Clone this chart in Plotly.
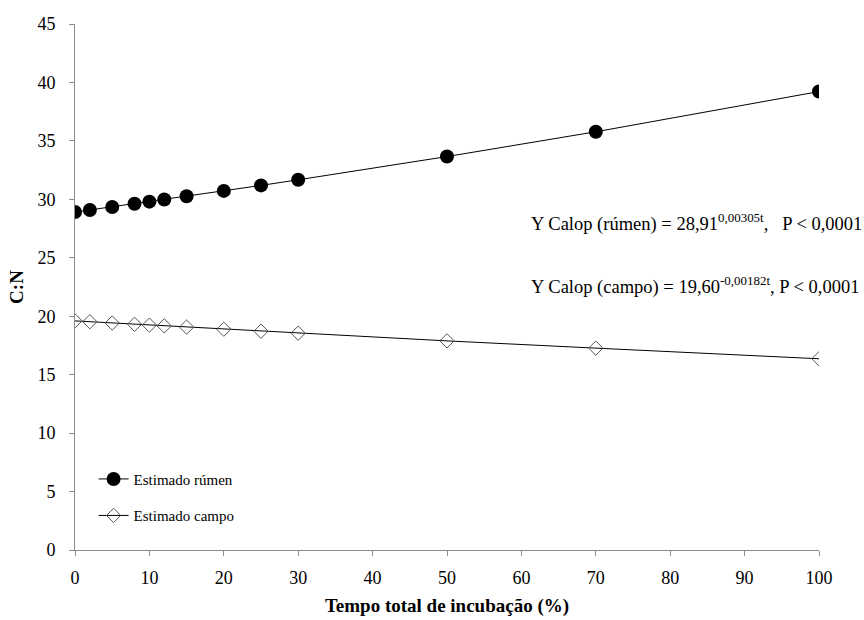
import plotly.graph_objects as go

# Incubation time (% of total) and estimated C:N ratios
tempo = [0, 2, 5, 8, 10, 12, 15, 20, 25, 30, 50, 70, 100]
rumen = [28.91, 29.09, 29.35, 29.62, 29.80, 29.98, 30.26, 30.72, 31.19, 31.67, 33.66, 35.78, 39.22]
campo = [19.60, 19.53, 19.42, 19.31, 19.24, 19.17, 19.07, 18.89, 18.72, 18.55, 17.89, 17.27, 16.36]

x_ticks = [0, 10, 20, 30, 40, 50, 60, 70, 80, 90, 100]
y_ticks = [0, 5, 10, 15, 20, 25, 30, 35, 40, 45]

serif = "Liberation Serif"
tick_font = dict(family=serif, size=18, color="black")

fig = go.Figure()
fig.add_trace(go.Scatter(
    x=tempo, y=rumen, mode="lines+markers", name="Estimado rúmen",
    legendgroup="a",
    line=dict(color="black", width=1),
    marker=dict(symbol="circle", size=14, color="black"),
))
fig.add_trace(go.Scatter(
    x=tempo, y=campo, mode="lines+markers", name="Estimado campo",
    legendgroup="b",
    line=dict(color="black", width=1),
    marker=dict(symbol="diamond-open", size=11, color="#555555",
                line=dict(width=1, color="#555555")),
))

fig.add_annotation(
    x=0.61, xref="paper", xanchor="left", y=28.05, yref="y",
    text="Y Calop (rúmen) = 28,91<sup>0,00305t</sup>,   P < 0,0001",
    showarrow=False, font=dict(family=serif, size=18.5, color="black"),
)
fig.add_annotation(
    x=0.61, xref="paper", xanchor="left", y=22.6, yref="y",
    text="Y Calop (campo) = 19,60<sup>-0,00182t</sup>, P < 0,0001",
    showarrow=False, font=dict(family=serif, size=18.5, color="black"),
)

fig.update_layout(
    width=864, height=620,
    margin=dict(l=75, r=45, t=24, b=70),
    paper_bgcolor="white", plot_bgcolor="white",
    font=dict(family=serif, color="black", size=18),
    showlegend=True,
    legend=dict(
        x=0.025, xanchor="left", y=0.166, yanchor="top",
        font=dict(family=serif, size=15, color="black"),
        bgcolor="rgba(0,0,0,0)",
        traceorder="grouped", tracegroupgap=14,
        itemwidth=30,
    ),
)
fig.update_xaxes(
    range=[0, 100], tickmode="array", tickvals=x_ticks,
    automargin=False,
    showgrid=False, zeroline=False,
    showline=True, linecolor="#8c8c8c", linewidth=1,
    ticks="outside", ticklen=5, tickcolor="#8c8c8c",
    ticklabelstandoff=6,
    tickfont=tick_font,
    title=dict(text="<b>Tempo total de incubação (%)</b>",
               font=dict(family=serif, size=19, color="black"),
               standoff=12),
)
fig.update_yaxes(
    range=[0, 45], tickmode="array", tickvals=y_ticks,
    automargin=False,
    showgrid=False, zeroline=False,
    showline=True, linecolor="#8c8c8c", linewidth=1,
    ticks="outside", ticklen=5, tickcolor="#8c8c8c",
    ticklabelstandoff=10,
    tickfont=tick_font,
    title=dict(text="<b>C:N</b>",
               font=dict(family=serif, size=19, color="black"),
               standoff=8),
)

fig.write_html("out.html")
